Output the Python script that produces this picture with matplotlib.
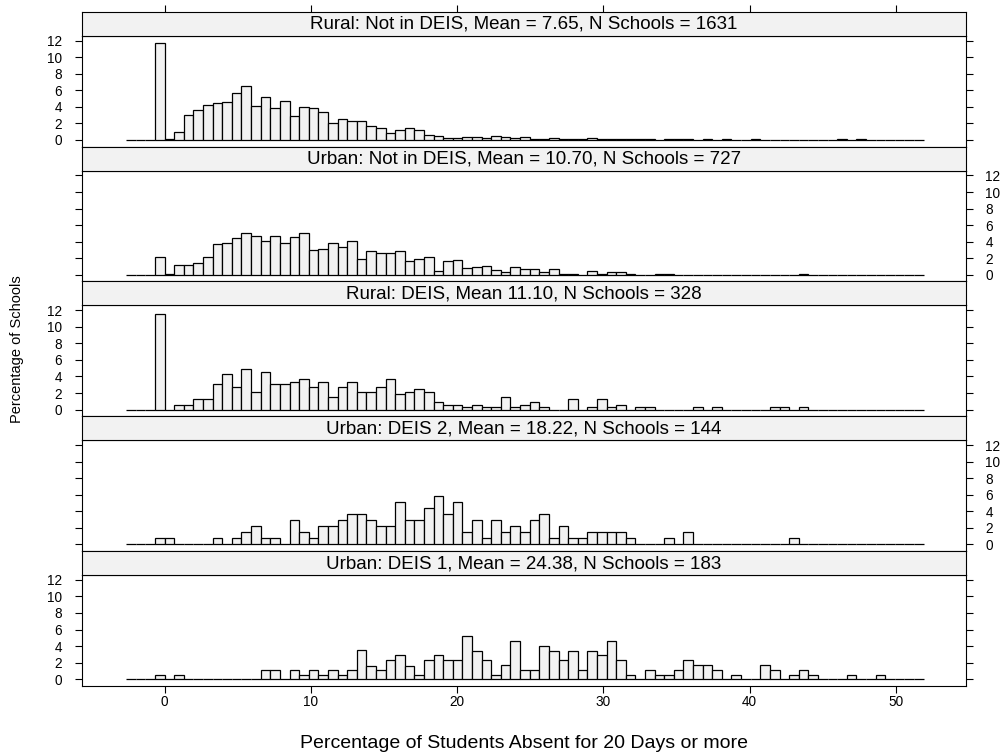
import matplotlib
matplotlib.use('Agg')
import matplotlib.pyplot as plt
import numpy as np

plt.rcParams['font.family'] = ['Liberation Sans', 'DejaVu Sans']

# ---------------- data ----------------
panel_titles = [
    "Rural: Not in DEIS, Mean = 7.65, N Schools = 1631",
    "Urban: Not in DEIS, Mean = 10.70, N Schools = 727",
    "Rural: DEIS, Mean 11.10, N Schools = 328",
    "Urban: DEIS 2, Mean = 18.22, N Schools = 144",
    "Urban: DEIS 1, Mean = 24.38, N Schools = 183",
]

# histogram bins: constant width, first edge, number of empty leading bins
bin_width = 0.657
n_bins = 83
first_edge = -4 * bin_width
n_leading_empty = 3

# percentage of schools in each bin (starting at the bin just left of 0)
rural_not_deis = [11.73, 0.12, 0.93, 3.06, 3.63, 4.19, 4.52, 4.56, 5.73, 6.49,
                  4.07, 5.20, 3.91, 4.76, 2.94, 3.95, 3.91, 3.39, 2.06, 2.50,
                  2.30, 2.30, 1.65, 1.41, 0.89, 1.17, 1.49, 1.21, 0.65, 0.48,
                  0.18, 0.18, 0.37, 0.37, 0.18, 0.49, 0.31, 0.25, 0.31, 0.12,
                  0.12, 0.25, 0.12, 0.06, 0.12, 0.25, 0.12, 0.06, 0.12, 0.06,
                  0.12, 0.12, 0.00, 0.06, 0.12, 0.12, 0.00, 0.12, 0.00, 0.06,
                  0.00, 0.00, 0.12, 0.00, 0.00, 0.00, 0.00, 0.00, 0.00, 0.00,
                  0.00, 0.12, 0.00, 0.12]
urban_not_deis = [2.14, 0.14, 1.24, 1.24, 1.38, 2.20, 3.71, 3.85, 4.40, 5.09,
                  4.68, 4.13, 4.68, 3.85, 4.54, 5.09, 2.99, 3.16, 3.85, 3.30,
                  4.13, 1.93, 2.89, 2.61, 2.61, 2.89, 1.65, 1.93, 2.20, 0.41,
                  1.65, 1.79, 0.83, 0.96, 1.10, 0.55, 0.28, 0.96, 0.69, 0.69,
                  0.28, 0.69, 0.14, 0.14, 0.00, 0.41, 0.14, 0.28, 0.28, 0.14,
                  0.00, 0.00, 0.14, 0.14, 0.00, 0.00, 0.00, 0.00, 0.00, 0.00,
                  0.00, 0.00, 0.00, 0.00, 0.00, 0.00, 0.00, 0.14]
rural_deis = [11.59, 0.00, 0.61, 0.61, 1.22, 1.22, 3.05, 4.27, 2.74, 4.88,
              2.13, 4.57, 3.05, 3.05, 3.35, 3.66, 2.74, 3.35, 1.52, 2.74,
              3.35, 2.13, 2.13, 2.74, 3.66, 1.83, 2.13, 2.44, 2.13, 0.91,
              0.61, 0.61, 0.30, 0.61, 0.30, 0.30, 1.52, 0.30, 0.61, 0.91,
              0.30, 0.00, 0.00, 1.22, 0.00, 0.30, 1.22, 0.30, 0.61, 0.00,
              0.30, 0.30, 0.00, 0.00, 0.00, 0.00, 0.30, 0.00, 0.30, 0.00,
              0.00, 0.00, 0.00, 0.00, 0.30, 0.30, 0.00, 0.30]
urban_deis2 = [0.73, 0.73, 0.00, 0.00, 0.00, 0.00, 0.73, 0.00, 0.73, 1.46,
               2.20, 0.73, 0.73, 0.00, 2.95, 1.46, 0.73, 2.20, 2.20, 2.95,
               3.68, 3.68, 2.95, 2.20, 2.20, 5.16, 2.95, 2.95, 4.43, 5.90,
               3.68, 5.16, 1.46, 2.95, 0.73, 2.95, 1.46, 2.20, 1.46, 2.95,
               3.68, 0.73, 2.20, 0.73, 0.73, 1.46, 1.46, 1.46, 1.46, 0.73,
               0.00, 0.00, 0.00, 0.73, 0.00, 1.46, 0.00, 0.00, 0.00, 0.00,
               0.00, 0.00, 0.00, 0.00, 0.00, 0.00, 0.73]
urban_deis1 = [0.56, 0.00, 0.56, 0.00, 0.00, 0.00, 0.00, 0.00, 0.00, 0.00,
               0.00, 1.13, 1.13, 0.00, 1.13, 0.56, 1.13, 0.56, 1.13, 0.56,
               1.13, 3.47, 1.65, 1.13, 2.30, 2.86, 1.65, 0.56, 2.30, 2.86,
               2.30, 2.30, 5.20, 3.43, 2.30, 0.52, 1.70, 4.64, 1.10, 1.10,
               4.03, 3.43, 2.30, 3.43, 1.10, 3.43, 2.86, 4.64, 2.30, 0.55,
               0.00, 1.10, 0.55, 0.55, 1.10, 2.30, 1.70, 1.70, 1.10, 0.00,
               0.55, 0.00, 0.00, 1.70, 1.10, 0.00, 0.55, 1.10, 0.55, 0.00,
               0.00, 0.00, 0.55, 0.00, 0.00, 0.55]

series = [rural_not_deis, urban_not_deis, rural_deis, urban_deis2, urban_deis1]

x_ticks = [0, 10, 20, 30, 40, 50]
y_ticks = [0, 2, 4, 6, 8, 10, 12]
x_label = "Percentage of Students Absent for 20 Days or more"
y_label = "Percentage of Schools"

# ---------------- layout ----------------
W, H = 1005, 755
fig = plt.figure(figsize=(W / 100, H / 100), dpi=100)

left_px, right_px = 81.7, 966.0
top0 = 11.7
panel_step = 134.8
strip_h = 24.0
plot_h = 110.8
xlim = (-5.67, 54.8)
ylim = (-0.79, 12.6)

fill = '#F2F2F2'
tick_fs = 9.8
strip_fs = 13.5

for i, (title, vals) in enumerate(zip(panel_titles, series)):
    strip_top = top0 + i * panel_step
    plot_top = strip_top + strip_h
    ax = fig.add_axes([left_px / W, 1 - (plot_top + plot_h) / H,
                       (right_px - left_px) / W, plot_h / H])
    sax = fig.add_axes([left_px / W, 1 - (strip_top + strip_h) / H,
                        (right_px - left_px) / W, strip_h / H])

    heights = [0.0] * n_leading_empty + list(vals)
    heights += [0.0] * (n_bins - len(heights))
    lefts = first_edge + np.arange(n_bins) * bin_width
    ax.bar(lefts, heights, width=bin_width, align='edge', color=fill,
           edgecolor='black', linewidth=0.9)

    ax.set_xlim(*xlim)
    ax.set_ylim(*ylim)
    ax.set_yticks(y_ticks)
    ax.set_xticks(x_ticks)
    for sp in ax.spines.values():
        sp.set_linewidth(0.8)
    labels_left = (i % 2 == 0)
    ax.tick_params(axis='y', which='both', direction='out', length=5, width=0.8,
                   left=True, right=True, labelleft=labels_left,
                   labelright=not labels_left, labelsize=tick_fs, pad=9)
    if i == len(panel_titles) - 1:
        ax.tick_params(axis='x', direction='out', length=5, width=0.8,
                       bottom=True, top=False, labelbottom=True,
                       labelsize=tick_fs, pad=2)
    else:
        ax.tick_params(axis='x', bottom=False, top=False, labelbottom=False)

    # strip
    sax.set_facecolor(fill)
    sax.set_xlim(*xlim)
    sax.set_ylim(0, 1)
    sax.set_yticks([])
    for sp in sax.spines.values():
        sp.set_linewidth(0.8)
    if i == 0:
        sax.set_xticks(x_ticks)
        sax.tick_params(axis='x', direction='out', length=5, width=0.8,
                        bottom=False, top=True, labelbottom=False, labeltop=False)
    else:
        sax.set_xticks([])
    sax.text(0.5, 0.47, title, transform=sax.transAxes, ha='center', va='center',
             fontsize=strip_fs)

bottom_px = top0 + 4 * panel_step + strip_h + plot_h
fig.text((left_px + right_px) / 2 / W, 1 - 743 / H, x_label, ha='center',
         va='center', fontsize=14)
fig.text(17 / W, 1 - ((top0 + bottom_px) / 2) / H, y_label, ha='center',
         va='center', rotation=90, fontsize=10.5)

fig.savefig('out.png', dpi=100)
